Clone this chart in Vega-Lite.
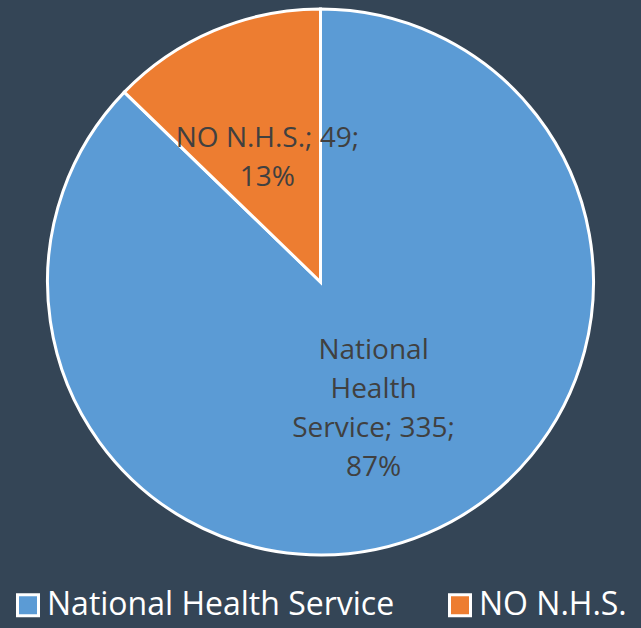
{
  "$schema": "https://vega.github.io/schema/vega-lite/v6.json",
  "width": 641,
  "height": 564,
  "autosize": "none",
  "padding": {"left": 0, "top": 0, "right": 0, "bottom": 64},
  "background": "#344556",
  "view": {"stroke": null},
  "data": {
    "values": [
      {"category": "National Health Service", "count": 335, "ord": 1, "label": "National\nHealth\nService; 335;\n87%"},
      {"category": "NO N.H.S.", "count": 49, "ord": 2, "label": "NO N.H.S.; 49;\n13%"}
    ]
  },
  "encoding": {
    "theta": {"field": "count", "type": "quantitative", "stack": true},
    "order": {"field": "ord", "type": "quantitative"}
  },
  "layer": [
    {
      "mark": {"type": "arc", "outerRadius": 273, "stroke": "white", "strokeWidth": 3},
      "encoding": {
        "color": {
          "field": "category",
          "type": "nominal",
          "scale": {"domain": ["National Health Service", "NO N.H.S."], "range": ["#5B9BD5", "#ED7D31"]},
          "sort": null,
          "legend": {
            "title": null,
            "orient": "none",
            "legendX": 12,
            "legendY": 589,
            "direction": "horizontal",
            "symbolType": "square",
            "symbolSize": 441,
            "symbolStrokeColor": "white",
            "symbolStrokeWidth": 3,
            "labelFont": "Open Sans",
            "labelFontSize": 32,
            "labelColor": "white",
            "labelLimit": 500,
            "columnPadding": 48,
            "labelOffset": 3
          }
        }
      }
    },
    {
      "mark": {"type": "text", "radius": 136, "dy": -18, "font": "Open Sans", "fontSize": 28, "lineBreak": "\n", "lineHeight": 39, "align": "center", "baseline": "middle", "fill": "#404040"},
      "encoding": {
        "text": {"condition": {"test": "datum.category === 'NO N.H.S.'", "field": "label"}, "value": ""},
        "detail": {"field": "category", "type": "nominal"}
      }
    },
    {
      "mark": {"type": "text", "radius": 136, "dy": -56, "font": "Open Sans", "fontSize": 28, "lineBreak": "\n", "lineHeight": 39, "align": "center", "baseline": "middle", "fill": "#404040"},
      "encoding": {
        "text": {"condition": {"test": "datum.category === 'National Health Service'", "field": "label"}, "value": ""},
        "detail": {"field": "category", "type": "nominal"}
      }
    }
  ]
}
